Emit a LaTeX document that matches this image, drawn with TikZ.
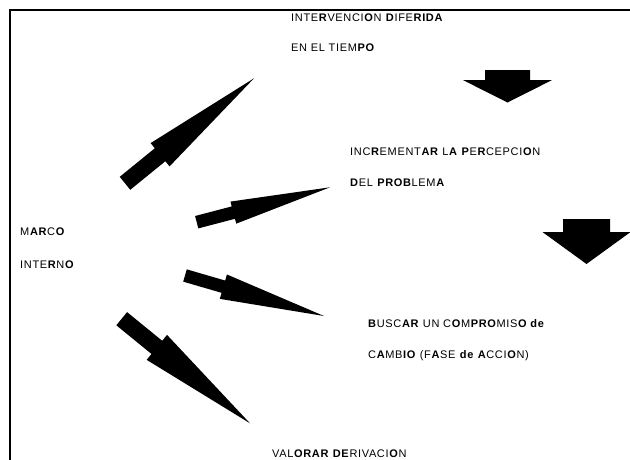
\documentclass[tikz,border=0pt]{standalone}
\usepackage{fontspec}
\usetikzlibrary{calc}
\newfontfamily\lab{Liberation Sans}[LetterSpace=6]
% #1 tail centre, #2 tip, #3 half shaft width, #4 half head width, #5 head base fraction
\newcommand\fatarr[5]{%
  \coordinate (#1base) at ($(#1)!#5!(#2)$);
  \fill[fatarrow] ($(#1)!#3!90:(#2)$) -- ($(#1base)!#3!90:(#2)$) -- ($(#1base)!#4!90:(#2)$)
    -- (#2) -- ($(#1base)!#4!-90:(#2)$) -- ($(#1base)!#3!-90:(#2)$) -- ($(#1)!#3!-90:(#2)$) -- cycle;}
\begin{document}
\begin{tikzpicture}[x=1pt,y=-1pt,
  lbl/.style={font=\lab\fontsize{11}{13}\selectfont, anchor=base west, inner sep=0pt},
  fatarrow/.style={fill=black, draw=none},
  framestyle/.style={line width=2.6pt, draw=black}]
\useasboundingbox (0,0) rectangle (630,459);
\fill[white] (0,0) rectangle (630,459);
% frame (top and left)
\coordinate (frTR) at (632,9.8);
\coordinate (frTL) at (9.8,9.8);
\coordinate (frBL) at (9.8,461);
\draw[framestyle] (frTR) -- (frTL) -- (frBL);
% labels
\node[lbl] (t1a) at (291,21) {INTE\textbf{R}VENCI\textbf{O}N \textbf{D}IFE\textbf{RIDA}};
\node[lbl] (t1b) at (291,51.5) {EN EL TIEM\textbf{PO}};
\node[lbl] (t2a) at (350,155) {INC\textbf{R}EMENT\textbf{AR} L\textbf{A} \textbf{P}E\textbf{R}CEPCI\textbf{O}N};
\node[lbl] (t2b) at (350,186.5) {\textbf{D}EL \textbf{PROB}LEM\textbf{A}};
\node[lbl] (t0a) at (20,235) {M\textbf{AR}C\textbf{O}};
\node[lbl] (t0b) at (20,268) {INTE\textbf{R}N\textbf{O}};
\node[lbl] (t3a) at (368,327) {\textbf{B}USC\textbf{AR} UN C\textbf{O}M\textbf{PRO}MIS\textbf{O de}};
\node[lbl] (t3b) at (368,358) {C\textbf{A}MB\textbf{IO} (F\textbf{A}SE \textbf{de} \textbf{A}CCI\textbf{O}N)};
\node[lbl] (t4a) at (272,457) {VAL\textbf{ORAR} \textbf{DE}RIVACI\textbf{O}N};
% big arrows
\coordinate (aA) at (125,183.3);   \coordinate (pA) at (254,78.3);
\coordinate (aB) at (196.7,222.2); \coordinate (pB) at (330,187.3);
\coordinate (aC) at (185,275.5);   \coordinate (pC) at (324,316);
\coordinate (aD) at (121.7,318.7); \coordinate (pD) at (250,423.3);
\coordinate (aE) at (507.5,70);    \coordinate (pE) at (507.5,102.5);
\coordinate (aF) at (586.5,219);   \coordinate (pF) at (586.5,264);
\fatarr{aA}{pA}{8.35pt}{15pt}{0.272}
\fatarr{aB}{pB}{6.4pt}{11.4pt}{0.275}
\fatarr{aC}{pC}{6.4pt}{12.7pt}{0.276}
\fatarr{aD}{pD}{8.5pt}{16.1pt}{0.274}
\fatarr{aE}{pE}{22.5pt}{44.5pt}{0.31}
\fatarr{aF}{pF}{23.5pt}{44pt}{0.29}
\end{tikzpicture}
\end{document}
